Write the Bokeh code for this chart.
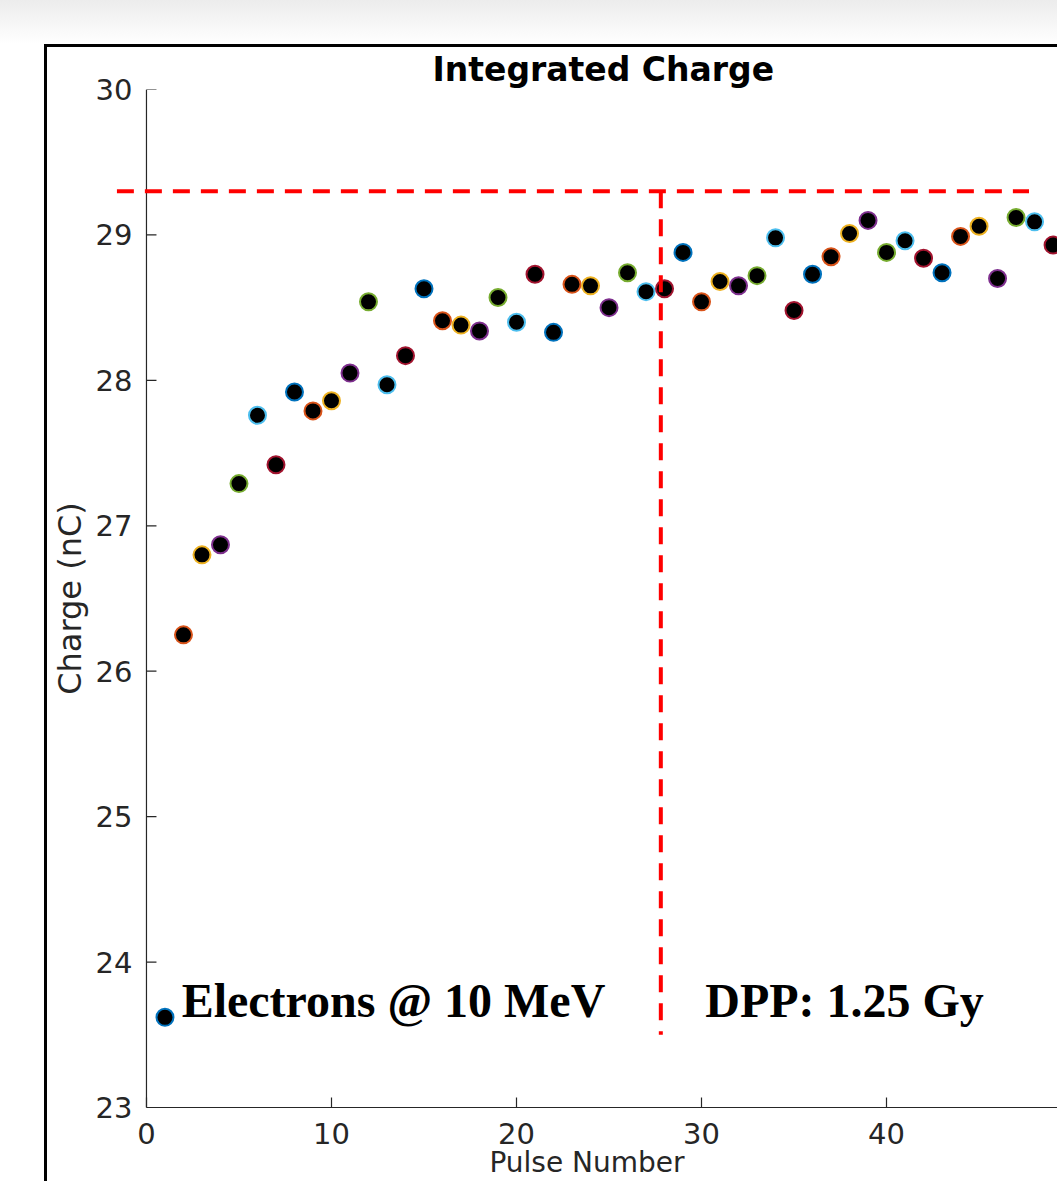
from bokeh.plotting import figure
from bokeh.models import Label, Arrow, Div, Spacer, ColumnDataSource, Span
from bokeh.layouts import column, row
from bokeh.embed import file_html
from bokeh.resources import INLINE

# ---- data ----
pulse_number = list(range(1, 50))
charge_nc = [23.62, 26.25, 26.80, 26.87, 27.29, 27.76, 27.42, 27.92, 27.79, 27.86,
             28.05, 28.54, 27.97, 28.17, 28.63, 28.41, 28.38, 28.34, 28.57, 28.40,
             28.73, 28.33, 28.66, 28.65, 28.50, 28.74, 28.61, 28.63, 28.88, 28.54,
             28.68, 28.65, 28.72, 28.98, 28.48, 28.73, 28.85, 29.01, 29.10, 28.88,
             28.96, 28.84, 28.74, 28.99, 29.06, 28.70, 29.12, 29.09, 28.93]
x_ticks = [0, 10, 20, 30, 40, 50]
y_ticks = [23, 24, 25, 26, 27, 28, 29, 30]

reference_charge = 29.3
reference_x_start = -1.6
reference_x_end = 47.7
marker_pulse = 27.8
marker_bottom = 23.5

title_text = "Integrated Charge"
x_label_text = "Pulse Number"
y_label_text = "Charge (nC)"
note_left = "Electrons @ 10 MeV"
note_right = "DPP: 1.25 Gy"
note_y = 23.735
note_left_x = 1.9
note_right_x = 30.2

# ---- styles ----
matlab_colors = ["#0072BD", "#D95319", "#EDB120", "#7E2F8E",
                 "#77AC30", "#4DBEEE", "#A2142F"]
edge_colors = [matlab_colors[i % len(matlab_colors)] for i in range(len(pulse_number))]
axis_color = "#262626"

src = ColumnDataSource(dict(x=pulse_number, y=charge_nc, c=edge_colors))

p = figure(width=1010, height=1134, x_range=(-1.62, 49.24), y_range=(23, 30),
           output_backend="svg", toolbar_location=None,
           min_border_left=69, min_border_right=0, min_border_top=42,
           min_border_bottom=73)
p.background_fill_color = "white"
p.border_fill_color = "white"
p.outline_line_color = None
p.xgrid.visible = False
p.ygrid.visible = False

p.title.text = title_text
p.title.align = "left"
p.title.offset = 316
p.title.standoff = 1
p.title.text_font = "DejaVu Sans"
p.title.text_font_size = "33px"
p.title.text_font_style = "bold"
p.title.text_color = "black"

p.xaxis.ticker = x_ticks
p.yaxis.ticker = y_ticks
for ax in (p.xaxis, p.yaxis):
    ax.major_tick_in = 10
    ax.major_tick_out = 0
    ax.minor_tick_line_color = None
    ax.axis_line_color = axis_color
    ax.axis_line_width = 1.2
    ax.major_tick_line_color = axis_color
    ax.major_tick_line_width = 1.2
    ax.major_label_text_color = axis_color
    ax.major_label_text_font = "DejaVu Sans"
    ax.major_label_text_font_size = "29px"

p.xaxis.bounds = (0, 50)
p.xaxis.major_label_standoff = 15
p.xaxis.axis_label = x_label_text
p.xaxis.axis_label_text_font = "DejaVu Sans"
p.xaxis.axis_label_text_font_size = "28px"
p.xaxis.axis_label_text_font_style = "normal"
p.xaxis.axis_label_text_color = axis_color
p.xaxis.axis_label_standoff = -1

# y axis drawn at pulse 0 (inside the frame), labels kept by the axis
p.yaxis.axis_line_color = None
p.yaxis.major_tick_line_color = None
p.yaxis.major_label_standoff = -16
p.yaxis.axis_label = y_label_text
p.yaxis.axis_label_text_font = "DejaVu Sans"
p.yaxis.axis_label_text_font_size = "32px"
p.yaxis.axis_label_text_font_style = "normal"
p.yaxis.axis_label_text_color = axis_color
p.yaxis.axis_label_standoff = 4

p.add_layout(Span(location=0, dimension="height", line_color=axis_color, line_width=1.2))
p.ray(x=[0] * len(y_ticks), y=y_ticks, length=10, length_units="screen", angle=0,
      line_color=axis_color, line_width=1.2)

# reference lines
p.add_layout(Arrow(end=None, x_start=reference_x_start, y_start=reference_charge,
                   x_end=reference_x_end, y_end=reference_charge,
                   line_color="#FF0000", line_width=4, line_dash="17 11"))
p.add_layout(Arrow(end=None, x_start=marker_pulse, y_start=reference_charge,
                   x_end=marker_pulse, y_end=marker_bottom,
                   line_color="#FF0000", line_width=4, line_dash="17 11"))

p.scatter(x="x", y="y", source=src, marker="circle", size=17,
          fill_color="black", line_color="c", line_width=2)

# texts
p.add_layout(Label(x=note_left_x, y=note_y, text=note_left, text_align="left",
                   text_baseline="alphabetic", text_font="Liberation Serif",
                   text_font_style="bold", text_font_size="48px", text_color="black"))
p.add_layout(Label(x=note_right_x, y=note_y, text=note_right, text_align="left",
                   text_baseline="alphabetic", text_font="Liberation Serif",
                   text_font_style="bold", text_font_size="48px", text_color="black"))

top_strip = Div(text="", width=1057, height=44, margin=0,
                styles={"background": "linear-gradient(to bottom, #ececec, #ffffff)",
                        "padding": "0"})
box_left = Div(text="", width=3, height=1137, margin=0,
               styles={"background-color": "black", "padding": "0"})
box_top = Div(text="", width=1010, height=3, margin=0,
              styles={"background-color": "black", "padding": "0"})

layout = column(top_strip,
                row(Spacer(width=44, height=1137, margin=0), box_left,
                    column(box_top, p, spacing=0), spacing=0),
                spacing=0)

open("out.html", "w").write(file_html(layout, INLINE))
